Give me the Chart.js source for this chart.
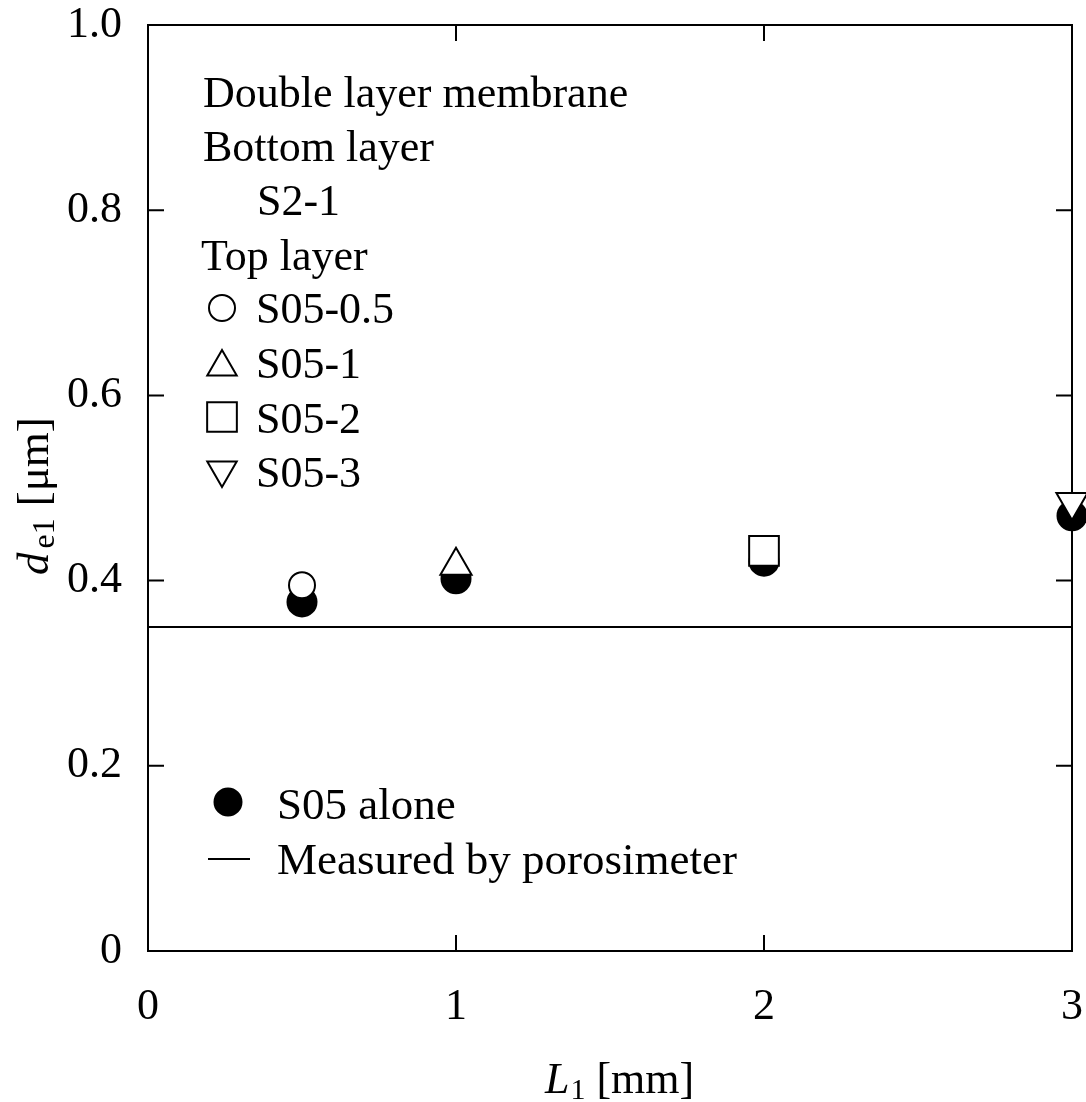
<!DOCTYPE html>
<html>
<head>
<meta charset="utf-8">
<script src="https://cdn.jsdelivr.net/npm/chart.js@4/dist/chart.umd.min.js"></script>
<style>
  html, body { margin: 0; padding: 0; background: #fff; }
</style>
</head>
<body>
<canvas id="chart" width="1086" height="1102"></canvas>
<script>
// axes
const xTicks = [0, 1, 2, 3];
const xTickLabels = ["0", "1", "2", "3"];
const yTicks = [0, 0.2, 0.4, 0.6, 0.8, 1.0];
const yTickLabels = ["0", "0.2", "0.4", "0.6", "0.8", "1.0"];

// double layer membrane, top layer samples (open symbols)
const topLayerNames = ["S05-0.5", "S05-1", "S05-2", "S05-3"];
const topLayerL1 = [0.5, 1, 2, 3];
const topLayerDe1 = [0.395, 0.416, 0.432, 0.485];

// S05 alone (filled circles)
const aloneL1 = [0.5, 1, 2, 3];
const aloneDe1 = [0.377, 0.402, 0.421, 0.470];

// porosimeter value
const porosimeterL1 = [0, 3];
const porosimeterDe1 = [0.35, 0.35];

const FONT = "'Liberation Serif', 'Times New Roman', serif";
const symbols = [
  { pointStyle: "circle", radius: 13, rotation: 0 },
  { pointStyle: "triangle", radius: 18, rotation: 0 },
  { pointStyle: "rect", radius: 21, rotation: 0 },
  { pointStyle: "triangle", radius: 18, rotation: 180 },
];

const openSets = topLayerNames.map((name, i) => ({
  label: name,
  data: [{ x: topLayerL1[i], y: topLayerDe1[i] }],
  pointStyle: symbols[i].pointStyle,
  pointRadius: symbols[i].radius,
  pointRotation: symbols[i].rotation,
  pointBackgroundColor: "#fff",
  pointBorderColor: "#000",
  pointBorderWidth: 2,
  showLine: false,
  clip: false,
  order: 1,
}));

// pas de marge automatique autour des axes
function noPad(s) {
  s.paddingLeft = 0;
  s.paddingRight = 0;
  s.paddingTop = 0;
  s.paddingBottom = 0;
}

// cadre, graduations vers l'intérieur, textes
const decor = {
  id: "decor",
  beforeDatasetsDraw(chart) {
    const { ctx, chartArea: a, scales } = chart;
    ctx.save();
    ctx.strokeStyle = "#000";
    ctx.lineWidth = 2;
    ctx.strokeRect(a.left, a.top, a.right - a.left, a.bottom - a.top);
    const len = 16;
    ctx.beginPath();
    xTicks.slice(1, -1).forEach((v) => {
      const px = scales.x.getPixelForValue(v);
      ctx.moveTo(px, a.bottom); ctx.lineTo(px, a.bottom - len);
      ctx.moveTo(px, a.top); ctx.lineTo(px, a.top + len);
    });
    yTicks.slice(1, -1).forEach((v) => {
      const py = scales.y.getPixelForValue(v);
      ctx.moveTo(a.left, py); ctx.lineTo(a.left + len, py);
      ctx.moveTo(a.right, py); ctx.lineTo(a.right - len, py);
    });
    ctx.stroke();
    ctx.restore();
  },
  afterDraw(chart) {
    const { ctx } = chart;
    const draw = Chart.helpers.drawPoint;
    ctx.save();
    ctx.fillStyle = "#000";
    ctx.textBaseline = "alphabetic";
    ctx.textAlign = "left";
    ctx.font = "44px " + FONT;

    ctx.fillText("Double layer membrane", 203, 107);
    ctx.fillText("Bottom layer", 203, 161);
    ctx.fillText("S2-1", 257, 215);
    ctx.fillText("Top layer", 201, 270);

    const rows = [308, 367, 417, 470];
    const base = [323, 378, 433, 487];
    const legendR = [13, 17, 21, 17];
    topLayerNames.forEach((name, i) => {
      ctx.fillStyle = "#fff";
      ctx.strokeStyle = "#000";
      ctx.lineWidth = 2;
      draw(ctx, { pointStyle: symbols[i].pointStyle, radius: legendR[i], rotation: symbols[i].rotation, borderWidth: 2 }, 222, rows[i]);
      ctx.fillStyle = "#000";
      ctx.fillText(name, 256, base[i]);
    });

    ctx.font = "45px " + FONT;
    ctx.fillStyle = "#000";
    ctx.strokeStyle = "#000";
    draw(ctx, { pointStyle: "circle", radius: 13.5, rotation: 0, borderWidth: 1 }, 228, 802);
    ctx.fillText("S05 alone", 277, 819);
    ctx.lineWidth = 2;
    ctx.beginPath();
    ctx.moveTo(208, 859); ctx.lineTo(250, 859);
    ctx.stroke();
    ctx.fillText("Measured by porosimeter", 277, 874);

    // titre x : L1 [mm]
    let x = 545;
    ctx.font = "italic 44px " + FONT;
    ctx.fillText("L", x, 1093);
    x += ctx.measureText("L").width + 1;
    ctx.font = "30px " + FONT;
    ctx.fillText("1", x, 1099);
    x += ctx.measureText("1").width;
    ctx.font = "44px " + FONT;
    ctx.fillText(" [mm]", x, 1093);

    // titre y : de1 [µm]
    ctx.translate(48, 575);
    ctx.rotate(-Math.PI / 2);
    let u = 0;
    ctx.font = "italic 45px " + FONT;
    ctx.fillText("d", u, 0);
    u += ctx.measureText("d").width + 4;
    ctx.font = "32px " + FONT;
    ctx.fillText("e1", u, 6);
    u += ctx.measureText("e1").width + 12;
    ctx.font = "45px " + FONT;
    ctx.fillText("[\u03bcm]", u, 0);
    ctx.restore();
  },
};

new Chart(document.getElementById("chart"), {
  type: "scatter",
  data: {
    datasets: [
      ...openSets,
      {
        label: "S05 alone",
        data: aloneL1.map((v, i) => ({ x: v, y: aloneDe1[i] })),
        pointStyle: "circle",
        pointRadius: 15.5,
        pointBackgroundColor: "#000",
        pointBorderColor: "#000",
        pointBorderWidth: 0,
        showLine: false,
        clip: false,
        order: 2,
      },
      {
        label: "Measured by porosimeter",
        data: porosimeterL1.map((v, i) => ({ x: v, y: porosimeterDe1[i] })),
        showLine: true,
        borderColor: "#000",
        borderWidth: 2,
        pointRadius: 0,
        order: 3,
      },
    ],
  },
  options: {
    responsive: false,
    animation: false,
    devicePixelRatio: 1,
    layout: { autoPadding: false, padding: { top: 25, right: 14, left: 0, bottom: 0 } },
    plugins: { legend: { display: false }, tooltip: { enabled: false } },
    scales: {
      x: {
        type: "linear",
        min: 0,
        max: 3,
        afterBuildTicks: (s) => { s.ticks = xTicks.map((v) => ({ value: v })); },
        afterFit: (s) => { s.height = 151; noPad(s); },
        grid: { display: false, drawTicks: false },
        border: { display: false },
        ticks: {
          color: "#000",
          padding: 30,
          maxRotation: 0,
          font: { family: FONT, size: 44 },
          callback: (v, i) => xTickLabels[i],
        },
      },
      y: {
        type: "linear",
        min: 0,
        max: 1,
        afterBuildTicks: (s) => { s.ticks = yTicks.map((v) => ({ value: v })); },
        afterFit: (s) => { s.width = 148; noPad(s); },
        grid: { display: false, drawTicks: false },
        border: { display: false },
        ticks: {
          color: "#000",
          padding: 26,
          font: { family: FONT, size: 44 },
          callback: (v, i) => yTickLabels[i],
        },
      },
    },
  },
  plugins: [decor],
});
</script>
</body>
</html>
